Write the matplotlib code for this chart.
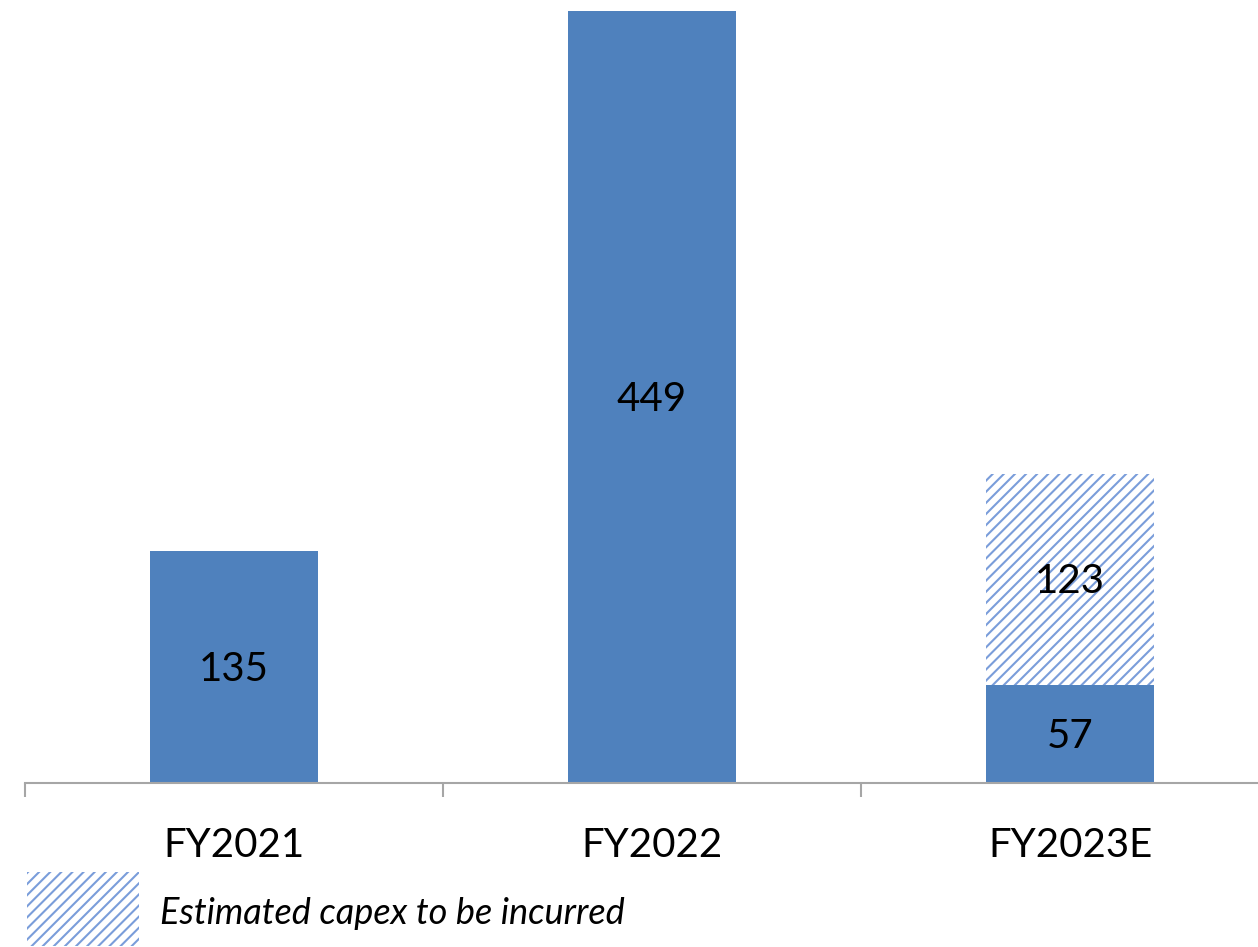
import matplotlib
matplotlib.use("Agg")
import matplotlib.pyplot as plt
from matplotlib.patches import Rectangle

categories = ["FY2021", "FY2022", "FY2023E"]
actual = [135, 449, 57]
estimated = [0, 0, 123]
legend_label = "Estimated capex to be incurred"

solid_color = "#4F81BD"
hatch_color = "#7A9DDA"

plt.rcParams['font.family'] = ['Lato', 'DejaVu Sans']
plt.rcParams['hatch.linewidth'] = 1.5
plt.rcParams['hatch.color'] = hatch_color

W, H = 1258, 947
fig = plt.figure(figsize=(W / 100, H / 100), dpi=100)
ax = fig.add_axes([25 / W, (H - 783) / H, 1254 / W, 783 / H])

x = list(range(len(categories)))
ax.bar(x, actual, width=0.4, color=solid_color, edgecolor='none', zorder=2)
ax.bar(x, estimated, width=0.4, bottom=actual, color='white',
       edgecolor=hatch_color, linewidth=0, hatch='///', zorder=2)

for xi, a, e in zip(x, actual, estimated):
    if a > 0:
        ax.text(xi, a / 2 - 1.5, str(a), ha='center', va='center', fontsize=29, color='black', zorder=3)
    if e > 0:
        ax.text(xi, a + e / 2 - 1.5, str(e), ha='center', va='center', fontsize=29, color='black', zorder=3)

ax.set_xlim(-0.5, 2.5)
ax.set_ylim(0, 455.6)
for s in ['left', 'right', 'top']:
    ax.spines[s].set_visible(False)
ax.spines['bottom'].set_color('#A6A6A6')
ax.spines['bottom'].set_linewidth(1.5)
ax.set_yticks([])

ax.set_xticks(x)
ax.set_xticklabels(categories, fontsize=29)
ax.tick_params(axis='x', which='major', length=0, pad=32)
ax.set_xticks([-0.5, 0.5, 1.5, 2.5], minor=True)
ax.tick_params(axis='x', which='minor', length=10, width=1.5, color='#A6A6A6')

# legend
fig.patches.append(Rectangle((27 / W, 1 - 946 / H), 112 / W, 74 / H,
                             transform=fig.transFigure, facecolor='white',
                             edgecolor=hatch_color, linewidth=0, hatch='///'))
fig.text(160 / W, 1 - 913 / H, legend_label, fontsize=26, style='italic',
         ha='left', va='center')

fig.savefig("out.png", dpi=100)
